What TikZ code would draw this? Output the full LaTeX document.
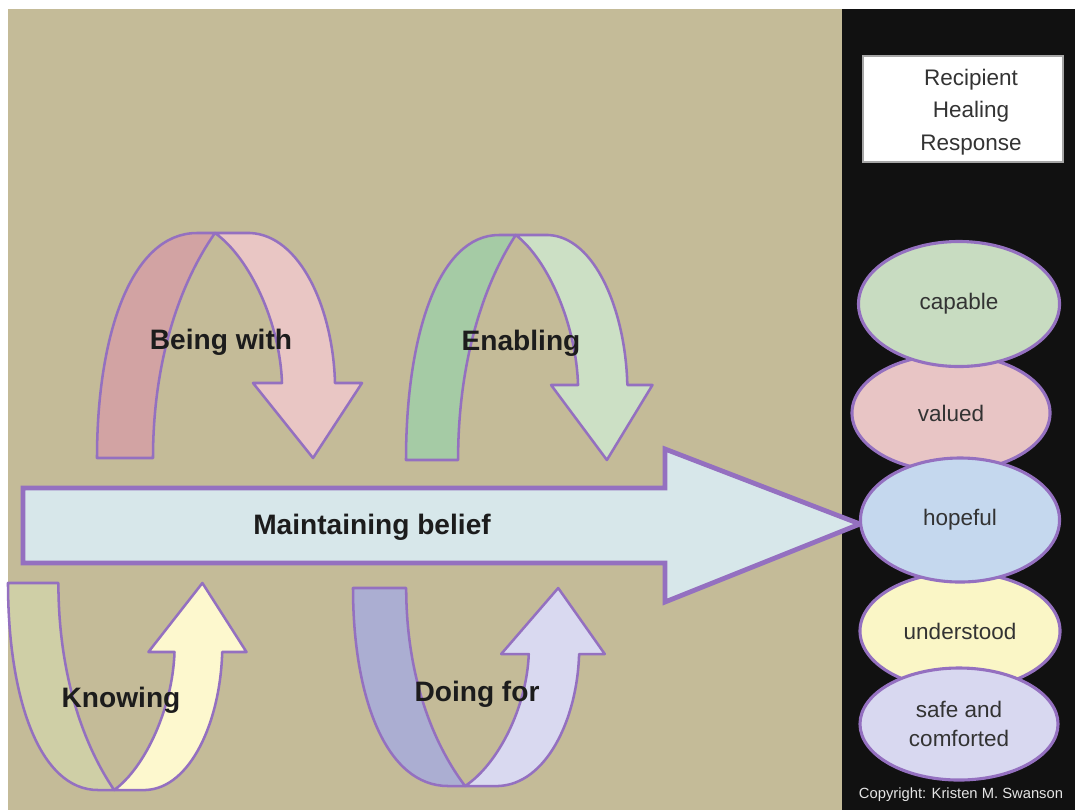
\documentclass[tikz,border=0pt]{standalone}
\usepackage{fontspec}
\setmainfont{Liberation Sans}
\usepackage{tikz}
\usetikzlibrary{shapes.geometric}
\definecolor{sand}{HTML}{C4BB98}
\definecolor{panel}{HTML}{111111}
\definecolor{outline}{HTML}{9470C0}
\definecolor{labelblack}{HTML}{1C1C1C}
\definecolor{textgray}{HTML}{333333}
\definecolor{beingdark}{HTML}{D2A3A3}
\definecolor{beinglight}{HTML}{E9C6C4}
\definecolor{enabledark}{HTML}{A5CBA5}
\definecolor{enablelight}{HTML}{CCE0C5}
\definecolor{knowdark}{HTML}{CFCFA6}
\definecolor{knowlight}{HTML}{FDF8CE}
\definecolor{doingdark}{HTML}{ABAED2}
\definecolor{doinglight}{HTML}{D9D9F0}
\definecolor{beliefblue}{HTML}{D7E7EA}
\definecolor{capablegreen}{HTML}{C8DCC1}
\definecolor{valuedpink}{HTML}{E8C5C5}
\definecolor{hopefulblue}{HTML}{C5D8EE}
\definecolor{understoodyellow}{HTML}{FAF6C6}
\definecolor{safelilac}{HTML}{D8D8F0}
\tikzset{
  ribbon/.style={draw=outline, line width=1.8pt, line join=round},
  beliefarrow/.style={draw=outline, line width=3.4pt, line join=miter, fill=beliefblue},
  response/.style={draw=outline, ellipse, line width=2.2pt, align=center, text=textgray, inner sep=0pt, font=\fontsize{16}{20}\selectfont},
  caring/.style={font=\fontsize{20}{24}\selectfont\bfseries, text=labelblack},
  titlebox/.style={draw=gray!70, line width=1.5pt, fill=white, minimum width=5cm, minimum height=2.65cm},
  pics/loop/.style 2 args={code={
    \draw[ribbon, fill=#1] (0,0) .. controls (0,-125) and (35,-225) .. (100,-225) -- (118,-225)
      .. controls (83,-175) and (56,-98) .. (56,0) -- cycle;
    \draw[ribbon, fill=#2] (118,-225) -- (153,-225) .. controls (203,-223) and (236,-150) .. (238,-75)
      -- (265,-75) -- (216,0) -- (156,-75) -- (185,-75) .. controls (183,-135) and (153,-200) .. (118,-225) -- cycle;
  }}
}

\begin{document}
\begin{tikzpicture}[x=0.025cm, y=-0.025cm]
  \useasboundingbox (0,0) rectangle (1075,810);
  \fill[white] (0,0) rectangle (1075,810);
  \fill[sand] (8,9) rectangle (842,810);
  \fill[panel] (842,9) rectangle (1075,810);

  % caring processes
  \pic at (97,458) {loop={beingdark}{beinglight}};
  \pic[xscale=0.93] at (406,460) {loop={enabledark}{enablelight}};
  \pic[xscale=0.9, yscale=-0.92] at (8,583) {loop={knowdark}{knowlight}};
  \pic[xscale=0.95, yscale=-0.88] at (353,588) {loop={doingdark}{doinglight}};

  \node[caring] (beingwith) at (221,342) {Being with};
  \node[caring] (enabling) at (521,343) {Enabling};
  \node[caring] (knowing) at (121,700) {Knowing};
  \node[caring] (doingfor) at (477,694) {Doing for};

  % maintaining belief
  \draw[beliefarrow] (23,488) -- (665,488) -- (665,449) -- (860,524) -- (665,602) -- (665,563) -- (23,563) -- cycle;
  \node[caring] (belief) at (372,527) {Maintaining belief};

  % healing response
  \node[titlebox] (recipient) at (963,109) {};
  \node[font=\fontsize{16}{23}\selectfont, align=center, text=textgray] (recipientlabel) at (971,112) {Recipient\\Healing\\Response};

  \node[response, fill=valuedpink, minimum width=4.95cm, minimum height=2.925cm] (valued) at (951,413) {valued};
  \node[response, fill=capablegreen, minimum width=5.025cm, minimum height=3.125cm] (capable) at (959,304) {capable};
  \node[response, fill=understoodyellow, minimum width=5cm, minimum height=2.925cm] (understood) at (960,631) {understood};
  \node[response, fill=hopefulblue, minimum width=4.975cm, minimum height=3.1cm] (hopeful) at (960,520) {hopeful};
  \node[response, fill=safelilac, minimum width=4.95cm, minimum height=2.8cm] (safe) at (959,724) {safe and\\comforted};

  \node[font=\fontsize{10.5}{12}\selectfont, text=gray!20] (copyright) at (961,795) {Copyright: Kristen M. Swanson};
\end{tikzpicture}
\end{document}
